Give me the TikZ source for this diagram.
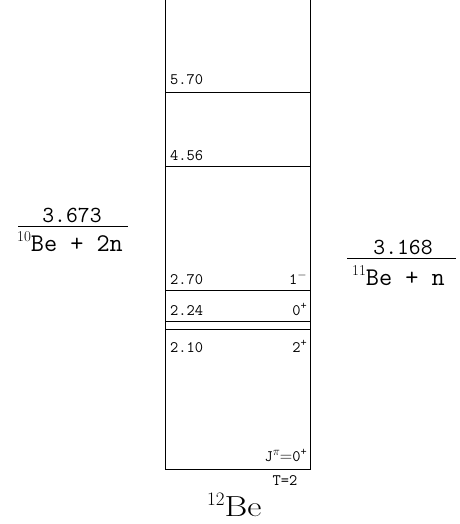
\documentclass[tikz,border=0pt]{standalone}
\usepackage{fontspec}
\newcommand\mysup[3]{\raisebox{#2}{\fontsize{#1}{#1}\selectfont #3}}
\begin{document}
\begin{tikzpicture}[x=1pt,y=-1pt,
  lvl/.style={line width=0.8pt},
  small/.style={font=\ttfamily\fontsize{16}{18}\selectfont, inner sep=0pt},
  mid/.style={font=\ttfamily\fontsize{23}{25}\selectfont, inner sep=0pt},
  midb/.style={font=\ttfamily\fontsize{25.5}{27}\selectfont, inner sep=0pt},
  big/.style={font=\fontsize{29}{31}\selectfont, inner sep=0pt}]
\useasboundingbox (0,0) rectangle (459,524);
% box
\coordinate (tl) at (165,0);
\coordinate (tr) at (310,0);
\coordinate (bl) at (165,469);
\coordinate (br) at (310,469);
\draw[lvl] (tl) -- (bl) -- (br) -- (tr);
% levels
\foreach \y/\n in {92/a,166/b,290/c,321/d,329/e}{
  \coordinate (\n l) at (165,\y);
  \coordinate (\n r) at (310,\y);
  \draw[lvl] (\n l) -- (\n r);
}
\node[small, anchor=base west] (t1) at (170,85) {5.70};
\node[small, anchor=base west] (t2) at (170,160) {4.56};
\node[small, anchor=base west] (t3) at (170,284) {2.70};
\node[small, anchor=base east] (s3) at (307,284) {1\mysup{12}{6pt}{$-$}};
\node[small, anchor=base west] (t4) at (170,315) {2.24};
\node[small, anchor=base east] (s4) at (307,315) {0\mysup{12}{6pt}{+}};
\node[small, anchor=base west] (t5) at (170,352) {2.10};
\node[small, anchor=base east] (s5) at (307,352) {2\mysup{12}{6pt}{+}};
\node[small, anchor=base east] (jp) at (307,461) {J\mysup{13}{6pt}{$\pi$}$=$0\mysup{12}{6pt}{+}};
\node[small, anchor=base] (tt) at (285,485) {T=2};
\node[big, anchor=base west] (be12) at (207,516) {\mysup{19}{11pt}{12}\scalebox{1.2}[1]{Be}};
% left threshold
\coordinate (l1) at (18,226);
\coordinate (l2) at (128,226);
\draw[lvl] (l1) -- (l2);
\node[mid, anchor=base] (v1) at (72,222) {3.673};
\node[midb, anchor=base west] (r1) at (17,251) {\mysup{15}{10pt}{\rmfamily 10}Be + 2n};
% right threshold
\coordinate (r1a) at (347,258);
\coordinate (r1b) at (456,258);
\draw[lvl] (r1a) -- (r1b);
\node[mid, anchor=base] (v2) at (403,254) {3.168};
\node[midb, anchor=base west] (r2) at (352,285) {\mysup{15}{10pt}{\rmfamily 11}Be + n};
\end{tikzpicture}
\end{document}
